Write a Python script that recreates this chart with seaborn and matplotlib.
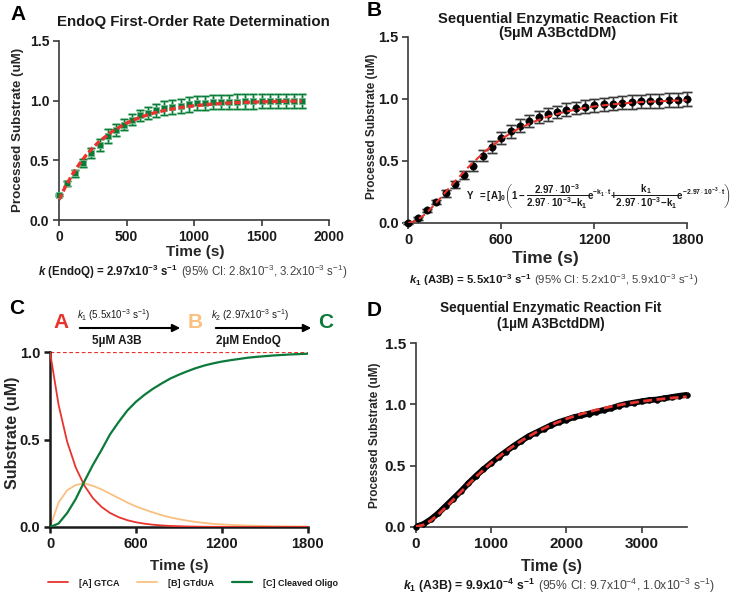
import numpy as np
import pandas as pd
import seaborn as sns
import matplotlib
matplotlib.use("Agg")
import matplotlib.pyplot as plt
from matplotlib.patches import FancyArrowPatch

# ---------------- data ----------------
# Panel A: EndoQ first-order rate (mean, SD) sampled every 60 s
A_time = list(range(0, 1801, 60))
A_mean = [0.208, 0.306, 0.392, 0.480, 0.561, 0.628, 0.703, 0.753, 0.800, 0.842,
          0.878, 0.897, 0.919, 0.936, 0.944, 0.956, 0.969, 0.981, 0.983, 0.989,
          0.989, 0.986, 0.992, 0.994, 0.994, 0.997, 0.997, 0.997, 0.997, 1.000, 1.000]
A_sd = [0.010, 0.020, 0.030, 0.035, 0.045, 0.050, 0.057, 0.050, 0.045, 0.045,
        0.045, 0.050, 0.055, 0.058, 0.058, 0.060, 0.060, 0.060, 0.060, 0.060,
        0.060, 0.060, 0.060, 0.060, 0.060, 0.060, 0.060, 0.060, 0.060, 0.060, 0.058]
A_fit_t = [0, 50, 100, 150, 200, 250, 300, 400, 500, 600, 700, 800, 900, 1000,
           1100, 1200, 1300, 1400, 1500, 1600, 1700, 1800]
A_fit_y = [0.170, 0.285, 0.383, 0.468, 0.542, 0.605, 0.660, 0.747, 0.812, 0.860,
           0.896, 0.923, 0.943, 0.957, 0.968, 0.977, 0.983, 0.987, 0.990, 0.993,
           0.995, 0.996]

# Panel B: sequential reaction, 5 uM A3BctdDM
B_time = list(range(0, 1801, 60))
B_mean = [0.000, 0.038, 0.103, 0.170, 0.238, 0.311, 0.386, 0.462, 0.543, 0.614,
          0.684, 0.738, 0.786, 0.822, 0.854, 0.876, 0.895, 0.914, 0.927, 0.938,
          0.949, 0.957, 0.962, 0.970, 0.976, 0.981, 0.984, 0.986, 0.992, 0.995, 0.997]
B_sd = [0.005, 0.010, 0.012, 0.018, 0.025, 0.030, 0.035, 0.040, 0.045, 0.048,
        0.050, 0.050, 0.050, 0.050, 0.050, 0.050, 0.050, 0.050, 0.050, 0.052,
        0.052, 0.052, 0.054, 0.054, 0.055, 0.055, 0.056, 0.056, 0.057, 0.057, 0.057]
B_fit_t = [0, 50, 100, 150, 200, 300, 400, 500, 600, 700, 800, 900, 1000, 1100,
           1200, 1300, 1400, 1500, 1600, 1700, 1800]
B_fit_y = [0.000, 0.018, 0.062, 0.122, 0.191, 0.334, 0.467, 0.583, 0.678, 0.753,
           0.812, 0.858, 0.893, 0.920, 0.940, 0.955, 0.966, 0.975, 0.981, 0.986, 0.990]

# Panel C: simulated species
C_time = list(range(0, 1801, 60))
C_A = [1.000, 0.698, 0.487, 0.340, 0.237, 0.165, 0.115, 0.080, 0.056, 0.039,
       0.027, 0.019, 0.013, 0.009, 0.006, 0.0045, 0.003, 0.002, 0.0015, 0.001,
       0.001, 0.0, 0.0, 0.0, 0.0, 0.0, 0.0, 0.0, 0.0, 0.0, 0.0]
C_B = [0.000, 0.140, 0.210, 0.240, 0.250, 0.235, 0.215, 0.190, 0.165, 0.140,
       0.118, 0.100, 0.083, 0.068, 0.055, 0.045, 0.036, 0.029, 0.023, 0.018,
       0.015, 0.012, 0.010, 0.008, 0.007, 0.006, 0.005, 0.004, 0.004, 0.003, 0.003]
C_C = [0.000, 0.020, 0.080, 0.160, 0.260, 0.355, 0.440, 0.530, 0.600, 0.665,
       0.715, 0.755, 0.790, 0.820, 0.848, 0.870, 0.890, 0.908, 0.923, 0.935,
       0.945, 0.953, 0.960, 0.967, 0.972, 0.976, 0.980, 0.983, 0.986, 0.988, 0.990]
C_labels = ["[A] GTCA", "[B] GTdUA", "[C] Cleaved Oligo"]

# Panel D: sequential reaction, 1 uM A3BctdDM
D_time = list(range(0, 3601, 100))
D_data = [0.000, 0.020, 0.060, 0.110, 0.170, 0.230, 0.290, 0.355, 0.415, 0.470,
          0.520, 0.570, 0.615, 0.660, 0.700, 0.740, 0.770, 0.800, 0.830, 0.855,
          0.875, 0.895, 0.910, 0.925, 0.940, 0.955, 0.970, 0.990, 1.005, 1.015,
          1.025, 1.035, 1.040, 1.050, 1.060, 1.070, 1.078]
D_fit_t = [0, 100, 200, 300, 400, 500, 600, 700, 800, 900, 1000, 1200, 1400,
           1600, 1800, 2000, 2200, 2400, 2600, 2800, 3000, 3200, 3400, 3600]
D_fit_y = [0.000, 0.014, 0.050, 0.101, 0.159, 0.221, 0.284, 0.347, 0.408, 0.465,
           0.520, 0.618, 0.702, 0.773, 0.833, 0.882, 0.922, 0.956, 0.983, 1.006,
           1.025, 1.040, 1.053, 1.063]

# ---------------- style ----------------
sns.set_theme(style="ticks")
plt.rcParams.update({
    "font.family": ["Liberation Sans", "DejaVu Sans"],
    "mathtext.fontset": "custom",
    "mathtext.rm": "Liberation Sans",
    "mathtext.it": "Liberation Sans:italic",
    "mathtext.bf": "Liberation Sans:bold",
    "mathtext.bfit": "Liberation Sans:italic:bold",
    "mathtext.sf": "Liberation Sans",
    "axes.edgecolor": "#3a3a3a",
    "xtick.color": "#3a3a3a",
    "ytick.color": "#3a3a3a",
    "text.color": "#1a1a1a",
})

RED = "#e8342c"
ORANGE = "#f9c080"
GREEN = "#0b7a3a"

W, H = 735, 597
fig = plt.figure(figsize=(W / 100, H / 100), dpi=100)
fig.patch.set_facecolor("white")


def rect(l, r, t, b):
    return [l / W, 1 - b / H, (r - l) / W, (b - t) / H]


def fx(px):
    return px / W


def fy(py):
    return 1 - py / H


def style_axes(ax, lw=1.2, color="#3a3a3a", tsize=10):
    for s in ["top", "right"]:
        ax.spines[s].set_visible(False)
    for s in ["left", "bottom"]:
        ax.spines[s].set_linewidth(lw)
        ax.spines[s].set_color(color)
    ax.tick_params(axis="both", length=4, width=lw, color=color,
                   labelsize=tsize, labelcolor="#1a1a1a")
    ax.tick_params(axis="x", pad=3.5)
    ax.tick_params(axis="y", pad=3)
    for lab in ax.get_xticklabels() + ax.get_yticklabels():
        lab.set_fontweight("bold")
    ax.set_facecolor("white")


def labels(ax, xl, xpos, yl, ypos, xsize=11, ysize=9):
    ax.set_xlabel(xl, fontsize=xsize, fontweight="bold")
    ax.xaxis.set_label_coords(fx(xpos[0]), fy(xpos[1]), transform=fig.transFigure)
    ax.xaxis.label.set_va("center")
    ax.set_ylabel(yl, fontsize=ysize, fontweight="bold")
    ax.yaxis.set_label_coords(fx(ypos[0]), fy(ypos[1]), transform=fig.transFigure)
    ax.yaxis.label.set_va("center")
    ax.yaxis.label.set_ha("center")


def rich_line(pieces, cx, cy, size, gap_px=3):
    texts = []
    for s, weight, color in pieces:
        t = fig.text(0, fy(cy), s, fontsize=size, fontweight=weight, color=color,
                     ha="left", va="center_baseline")
        texts.append(t)
    r = fig.canvas.get_renderer()
    widths = [t.get_window_extent(r).width for t in texts]
    total = sum(widths) + gap_px * (len(texts) - 1)
    x = cx - total / 2
    for t, w in zip(texts, widths):
        t.set_x(fx(x))
        x += w + gap_px


# ---------------- Panel A ----------------
axA = fig.add_axes(rect(59, 329, 41, 220))
axA.errorbar(A_time, A_mean, yerr=A_sd, fmt="none", ecolor="#a3d6b5",
             elinewidth=2.2, capsize=2.8, capthick=2.2, zorder=2, clip_on=False)
axA.errorbar(A_time, A_mean, yerr=A_sd, fmt="none", ecolor=GREEN,
             elinewidth=0.9, capsize=2.6, capthick=0.9, zorder=3, clip_on=False)
sns.scatterplot(x=A_time, y=A_mean, marker="s", s=22, color=GREEN,
                edgecolor="#6fb98a", linewidth=0.6, ax=axA, zorder=4, clip_on=False)
sns.lineplot(x=A_fit_t, y=A_fit_y, color=RED, lw=2.4, linestyle=(0, (1.9, 0.9)),
             ax=axA, zorder=5)
axA.set_xlim(0, 2000)
axA.set_ylim(0, 1.5)
axA.set_xticks([0, 500, 1000, 1500, 2000])
axA.set_yticks([0, 0.5, 1.0, 1.5])
axA.set_yticklabels(["0.0", "0.5", "1.0", "1.5"])
style_axes(axA)
labels(axA, "Time (s)", (195, 252), "Processed Substrate (uM)", (18, 130),
       xsize=11, ysize=9.6)

# ---------------- Panel B ----------------
axB = fig.add_axes(rect(408.3, 687.3, 37, 223))
axB.errorbar(B_time, B_mean, yerr=B_sd, fmt="none", ecolor="#c2c2c2",
             elinewidth=2.0, capsize=3.6, capthick=2.0, zorder=2, clip_on=False)
axB.errorbar(B_time, B_mean, yerr=B_sd, fmt="none", ecolor="#3a3a3a",
             elinewidth=0.9, capsize=3.4, capthick=0.9, zorder=3, clip_on=False)
sns.scatterplot(x=B_time, y=B_mean, marker="o", s=28, color="black",
                edgecolor="black", linewidth=0.4, ax=axB, zorder=4, clip_on=False)
sns.lineplot(x=B_fit_t, y=B_fit_y, color=RED, lw=1.5, linestyle=(0, (3.6, 2.0)),
             ax=axB, zorder=5)
axB.set_xlim(0, 1800)
axB.set_ylim(0, 1.5)
axB.set_xticks([0, 600, 1200, 1800])
axB.set_yticks([0, 0.5, 1.0, 1.5])
axB.set_yticklabels(["0.0", "0.5", "1.0", "1.5"])
style_axes(axB, tsize=10.5)
labels(axB, "Time (s)", (545, 258), "Processed Substrate (uM)", (372, 126),
       xsize=12.5, ysize=8.5)

formula = (r"$\mathbf{Y\ \ =[A]_{\mathbf{0}}}\left(\mathbf{1-}"
           r"\dfrac{\mathbf{2.97\cdot10^{-3}}}{\mathbf{2.97\cdot10^{-3}\!-\!k_1}}"
           r"\mathbf{e}^{\mathbf{-k_1\cdot t}}\mathbf{+}"
           r"\dfrac{\mathbf{k_1}}{\mathbf{2.97\cdot10^{-3}\!-\!k_1}}"
           r"\mathbf{e}^{\mathbf{-2.97\cdot10^{-3}\cdot t}}\right)$")
fig.text(fx(466), fy(197), formula, fontsize=7.0, ha="left", va="center",
         color="#1a1a1a")

# ---------------- Panel C ----------------
axC = fig.add_axes(rect(50, 307.5, 352, 527))
axC.axhline(1.0, color=RED, lw=0.9, linestyle=(0, (3, 2)), zorder=1)
sns.lineplot(x=C_time, y=C_A, color=RED, lw=1.3, ax=axC, label=C_labels[0], zorder=3)
sns.lineplot(x=C_time, y=C_B, color=ORANGE, lw=1.3, ax=axC, label=C_labels[1], zorder=2)
sns.lineplot(x=C_time, y=C_C, color=GREEN, lw=1.6, ax=axC, label=C_labels[2], zorder=3)
axC.set_xlim(0, 1800)
axC.set_ylim(0, 1.0)
axC.set_xticks([0, 600, 1200, 1800])
axC.set_yticks([0, 0.5, 1.0])
axC.set_yticklabels(["0.0", "0.5", "1.0"])
style_axes(axC, lw=1.8, color="#1a1a1a", tsize=10.5)
labels(axC, "Time (s)", (179, 566), "Substrate (uM)", (12, 433), xsize=11,
       ysize=11.5)
axC.legend(loc="center", bbox_to_anchor=(fx(193), fy(583)),
           bbox_transform=fig.transFigure, ncol=3, frameon=False,
           prop={"size": 6.5, "weight": "bold"}, handlelength=2.2,
           columnspacing=2.0, handletextpad=1.2)

# reaction scheme
fig.text(fx(61), fy(323), "A", color=RED, fontsize=15, fontweight="bold",
         ha="center", va="center")
fig.text(fx(195), fy(323), "B", color=ORANGE, fontsize=15, fontweight="bold",
         ha="center", va="center")
fig.text(fx(326), fy(323), "C", color=GREEN, fontsize=15, fontweight="bold",
         ha="center", va="center")
for x1, x2 in [(77, 183), (213, 314)]:
    fig.add_artist(FancyArrowPatch((fx(x1), fy(328)), (fx(x2), fy(328)),
                                   transform=fig.transFigure, arrowstyle="-|>",
                                   mutation_scale=11, lw=1.5, color="black"))
fig.text(fx(113), fy(315), r"$\mathit{k}_1$ (5.5x10$^{-3}$ s$^{-1}$)", fontsize=7,
         ha="center", va="center", color="#1a1a1a")
fig.text(fx(250), fy(315), r"$\mathit{k}_2$ (2.97x10$^{-3}$ s$^{-1}$)", fontsize=7,
         ha="center", va="center", color="#1a1a1a")
fig.text(fx(117), fy(341), "5µM A3B", fontsize=8.5, fontweight="bold",
         ha="center", va="center")
fig.text(fx(248), fy(341), "2µM EndoQ", fontsize=8.5, fontweight="bold",
         ha="center", va="center")

# ---------------- Panel D ----------------
axD = fig.add_axes(rect(415.7, 686.7, 343.3, 526.7))
sns.lineplot(x=D_time, y=D_data, color="black", lw=4.2, ax=axD, zorder=3)
sns.scatterplot(x=D_time, y=D_data, color="black", s=18, edgecolor="black",
                ax=axD, zorder=3, clip_on=False)
sns.lineplot(x=D_fit_t, y=D_fit_y, color=RED, lw=2.0, linestyle=(0, (3.2, 1.6)),
             ax=axD, zorder=4)
axD.set_xlim(0, 3600)
axD.set_ylim(0, 1.5)
axD.set_xticks([0, 1000, 2000, 3000])
axD.set_yticks([0, 0.5, 1.0, 1.5])
axD.set_yticklabels(["0.0", "0.5", "1.0", "1.5"])
style_axes(axD, tsize=11)
labels(axD, "Time (s)", (551, 567), "Processed Substrate (uM)", (375, 435),
       xsize=11.5, ysize=8.5)

# ---------------- titles, panel letters, captions ----------------
fig.text(fx(193.5), fy(22), "EndoQ First-Order Rate Determination", fontsize=10.8,
         fontweight="bold", ha="center", va="center")
fig.text(fx(558), fy(26), "Sequential Enzymatic Reaction Fit\n(5µM A3BctdDM)",
         fontsize=10.6, fontweight="bold", ha="center", va="center", linespacing=1.05)
fig.text(fx(551), fy(316), "Sequential Enzymatic Reaction Fit\n(1µM A3BctdDM)",
         fontsize=9.8, fontweight="bold", ha="center", va="center", linespacing=1.1)

for letter, (px, py) in {"A": (18, 14), "B": (374, 11), "C": (17, 309), "D": (374, 311)}.items():
    fig.text(fx(px), fy(py), letter, fontsize=15, fontweight="bold",
             ha="center", va="center", color="black")

GREY = "#444444"
rich_line([(r"$\mathbfit{k}$ (EndoQ) = 2.97x10$^{\mathbf{-3}}$ s$^{\mathbf{-1}}$", "bold", "#1a1a1a"),
           (r"(95% CI: 2.8x10$^{-3}$, 3.2x10$^{-3}$ s$^{-1}$)", "normal", GREY)],
          193, 269, 8.3)
rich_line([(r"$\mathbfit{k}_{\mathbf{1}}$ (A3B) = 5.5x10$^{\mathbf{-3}}$ s$^{\mathbf{-1}}$", "bold", "#1a1a1a"),
           (r"(95% CI: 5.2x10$^{-3}$, 5.9x10$^{-3}$ s$^{-1}$)", "normal", GREY)],
          554, 278, 8.2)
rich_line([(r"$\mathbfit{k}_{\mathbf{1}}$ (A3B) = 9.9x10$^{\mathbf{-4}}$ s$^{\mathbf{-1}}$", "bold", "#1a1a1a"),
           (r"(95% CI: 9.7x10$^{-4}$, 1.0x10$^{-3}$ s$^{-1}$)", "normal", GREY)],
          559, 583, 8.8)

fig.savefig("out.png", dpi=100, facecolor="white")
